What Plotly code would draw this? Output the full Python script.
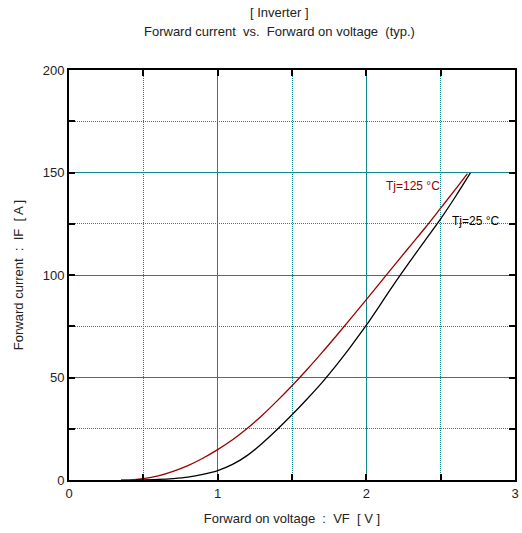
import plotly.graph_objects as go

# Tj = 125 degC curve
vf_125 = [0.35, 0.4, 0.5, 0.6, 0.7, 0.8, 0.9, 1.0, 1.1, 1.2, 1.3, 1.4, 1.5, 1.6, 1.7, 1.8, 1.9,
          2.0, 2.1, 2.2, 2.3, 2.4, 2.5, 2.6, 2.68]
if_125 = [0.0, 0.1, 0.7, 2.0, 4.2, 7.0, 10.6, 14.8, 19.6, 25.2, 31.6, 38.6, 46.0, 53.8, 62.0,
          70.5, 79.2, 88.0, 96.9, 105.8, 114.6, 123.4, 132.6, 141.9, 149.5]

# Tj = 25 degC curve
vf_25 = [0.45, 0.6, 0.7, 0.8, 0.9, 1.0, 1.1, 1.2, 1.3, 1.4, 1.5, 1.6, 1.7, 1.8, 1.9,
         2.0, 2.1, 2.2, 2.3, 2.4, 2.5, 2.6, 2.7]
if_25 = [0.0, 0.3, 0.7, 1.4, 2.7, 4.6, 7.6, 12.0, 17.9, 24.6, 31.8, 39.4, 47.4, 56.2, 65.6,
         75.5, 86.2, 97.0, 107.3, 117.4, 127.4, 138.3, 149.8]

x_ticks = [0, 1, 2, 3]
y_ticks = [0, 50, 100, 150, 200]

font_family = "Liberation Sans, Arial, sans-serif"
teal = "#138a8a"

fig = go.Figure()
fig.add_trace(go.Scatter(x=vf_125, y=if_125, mode="lines",
                         line=dict(color="#990000", width=1.3, shape="spline", smoothing=1.0),
                         showlegend=False, hoverinfo="skip"))
fig.add_trace(go.Scatter(x=vf_25, y=if_25, mode="lines",
                         line=dict(color="black", width=1.3, shape="spline", smoothing=1.0),
                         showlegend=False, hoverinfo="skip"))

fig.add_annotation(x=2.12, y=143.5, text="Tj=125 °C", showarrow=False, xanchor="left",
                   font=dict(color="#990000", size=12, family=font_family))
fig.add_annotation(x=2.56, y=126.5, text="Tj=25 °C", showarrow=False, xanchor="left",
                   font=dict(color="black", size=12, family=font_family))

# title lines (paper coords relative to plot area: x 69..519 px, y 480..70 px)
fig.add_annotation(x=(281 - 69) / 450, y=(480 - 12) / 410, xref="paper", yref="paper",
                   text="[ Inverter ]", showarrow=False,
                   font=dict(size=13, family=font_family, color="#222"), yanchor="middle")
fig.add_annotation(x=(281 - 69) / 450, y=(480 - 32) / 410, xref="paper", yref="paper",
                   text="Forward current  vs.  Forward on voltage  (typ.)", showarrow=False,
                   font=dict(size=13, family=font_family, color="#222"), yanchor="middle")

axis_common = dict(
    showline=True, linecolor="black", linewidth=2, mirror="ticks",
    ticks="inside", ticklen=6, tickwidth=2, tickcolor="black",
    showgrid=True, gridcolor=teal, gridwidth=1,
    zeroline=False,
    tickfont=dict(size=13, family=font_family, color="#222"),
)

fig.update_xaxes(
    range=[0, 3], tickvals=x_ticks, ticktext=[str(v) for v in x_ticks],
    minor=dict(dtick=0.5, tick0=0, showgrid=True, gridcolor=teal, griddash="1px,1px",
               gridwidth=1, ticks="inside", ticklen=6, tickwidth=2, tickcolor="black"),
    title=dict(text="Forward on voltage  :  VF  [ V ]",
               font=dict(size=13, family=font_family, color="#222"), standoff=14),
    **axis_common)
fig.update_yaxes(
    range=[0, 200], tickvals=y_ticks, ticktext=[str(v) for v in y_ticks],
    minor=dict(dtick=25, tick0=0, showgrid=True, gridcolor=teal, griddash="1px,1px",
               gridwidth=1, ticks="inside", ticklen=6, tickwidth=2, tickcolor="black"),
    title=dict(text="Forward current  :  IF  [ A ]",
               font=dict(size=13, family=font_family, color="#222"), standoff=16),
    **axis_common)

fig.update_layout(
    width=522, height=533,
    margin=dict(l=69, r=3, t=70, b=53),
    plot_bgcolor="white", paper_bgcolor="white",
    showlegend=False,
)

fig.write_html("out.html")
